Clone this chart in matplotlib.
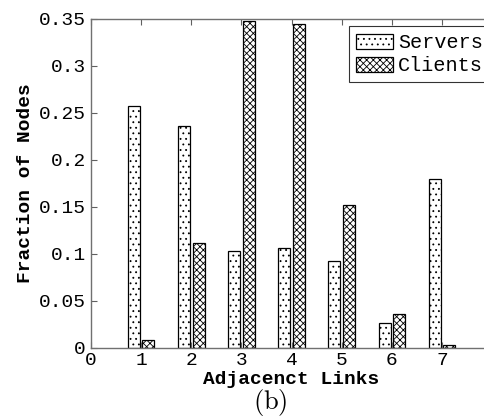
import numpy as np
import matplotlib
matplotlib.use("Agg")
import matplotlib.pyplot as plt

links = [1, 2, 3, 4, 5, 6, 7]
servers = [0.257, 0.236, 0.103, 0.106, 0.092, 0.027, 0.180]
clients = [0.009, 0.112, 0.347, 0.344, 0.152, 0.036, 0.003]
yticks = [0, 0.05, 0.1, 0.15, 0.2, 0.25, 0.3, 0.35]
yticklabels = ['0', '0.05', '0.1', '0.15', '0.2', '0.25', '0.3', '0.35']

plt.rcParams['font.family'] = 'Liberation Mono'
plt.rcParams['hatch.linewidth'] = 0.6
plt.rcParams['mathtext.fontset'] = 'cm'

fig = plt.figure(figsize=(4.85, 4.18), dpi=100)
ax = fig.add_axes([0.1876, 0.1675, 0.827, 0.788])

x = np.array(links)
w = 0.24
ax.bar(x - 0.145, servers, w, facecolor='white', edgecolor='black',
       hatch='...', linewidth=0.9, label='Servers')
ax.bar(x + 0.145, clients, w, facecolor='white', edgecolor='black',
       hatch='xxxxx', linewidth=0.9, label='Clients')

ax.set_xlim(0, 8)
ax.set_ylim(0, 0.35)
ax.set_xticks(range(0, 8))
ax.set_yticks(yticks)
ax.set_yticklabels(yticklabels)
ax.tick_params(direction='in', top=True, right=False, labelsize=14,
               length=4, color='#606060')
ax.tick_params(axis='x', pad=3)
for s in ax.spines.values():
    s.set_color('#707070')
    s.set_linewidth(1.0)

ax.set_xlabel('Adjacenct Links', fontsize=14, fontweight='bold', labelpad=1)
ax.set_ylabel('Fraction of Nodes', fontsize=14, fontweight='bold', labelpad=4)

leg = ax.legend(loc='upper left', bbox_to_anchor=(0.643, 0.977), fontsize=14.5,
                frameon=True, fancybox=False, handlelength=1.85, handleheight=0.8,
                handletextpad=0.25, borderpad=0.35, labelspacing=0.2,
                borderaxespad=0)
leg.get_frame().set_edgecolor('black')
leg.get_frame().set_linewidth(0.8)

fig.text(0.557, 0.022, r'$\mathrm{(b)}$', fontsize=19, ha='center', va='baseline')

fig.savefig('out.png', dpi=100)
